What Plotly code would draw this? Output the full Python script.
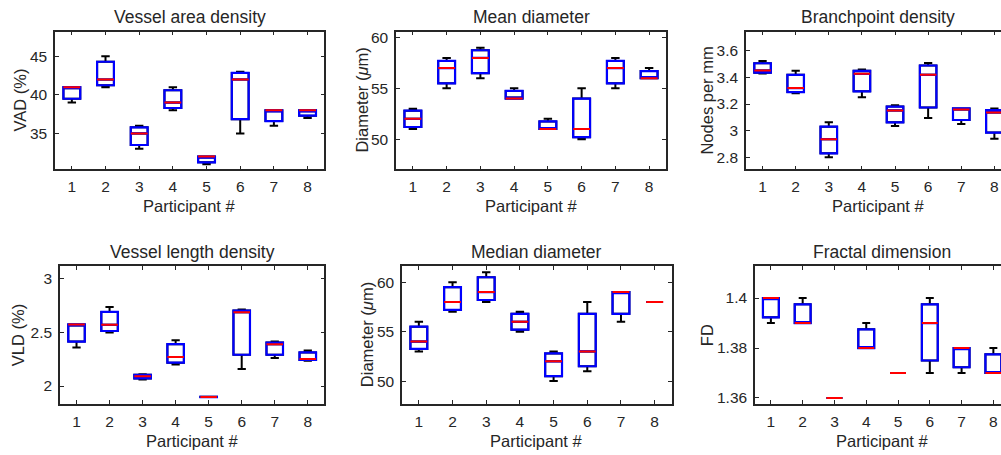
import plotly.graph_objects as go

participants = [1, 2, 3, 4, 5, 6, 7, 8]

# ---- data: box statistics per participant (min, q1, median, q3, max) ----
vad_min = [39, 41, 33, 38, 31, 35, 36, 37]
vad_q1 = [39.5, 41.25, 33.5, 38.3, 31.25, 36.85, 36.6, 37.3]
vad_med = [41, 42, 35, 39, 32, 42, 38, 38]
vad_q3 = [41, 44.3, 35.8, 40.6, 32, 42.85, 38, 38]
vad_max = [41, 45, 36, 41, 32, 43, 38, 38]

md_min = [51, 55, 56, 54, 51, 50, 55, 56]
md_q1 = [51.2, 55.5, 56.5, 54, 51, 50.2, 55.5, 56]
md_med = [52, 57, 58, 54, 51, 51, 57, 56]
md_q3 = [52.8, 57.7, 58.75, 54.75, 51.75, 54, 57.7, 56.7]
md_max = [53, 58, 59, 55, 52, 55, 58, 57]

bp_min = [3.43, 3.28, 2.80, 3.25, 3.035, 3.095, 3.05, 2.94]
bp_q1 = [3.435, 3.29, 2.83, 3.295, 3.063, 3.174, 3.08, 2.986]
bp_med = [3.451, 3.32, 2.936, 3.427, 3.152, 3.419, 3.159, 3.137]
bp_q3 = [3.506, 3.419, 3.03, 3.449, 3.181, 3.489, 3.167, 3.154]
bp_max = [3.523, 3.449, 3.063, 3.459, 3.191, 3.508, 3.167, 3.167]

vld_min = [2.36, 2.50, 2.062, 2.20, 1.897, 2.16, 2.262, 2.237]
vld_q1 = [2.415, 2.514, 2.071, 2.218, 1.897, 2.292, 2.292, 2.243]
vld_med = [2.575, 2.572, 2.092, 2.271, 1.898, 2.69, 2.391, 2.252]
vld_q3 = [2.575, 2.692, 2.105, 2.391, 1.899, 2.705, 2.406, 2.314]
vld_max = [2.575, 2.738, 2.111, 2.428, 1.899, 2.714, 2.415, 2.332]

mdd_min = [53, 57, 58, 55, 50, 51, 56, 58]
mdd_q1 = [53.25, 57.2, 58.2, 55.2, 50.5, 51.5, 56.8, 58]
mdd_med = [54, 58, 59, 56, 52, 53, 59, 58]
mdd_q3 = [55.5, 59.5, 60.5, 56.8, 52.8, 56.8, 59, 58]
mdd_max = [56, 60, 61, 57, 53, 58, 59, 58]

fd_min = [1.39, 1.39, 1.36, 1.38, 1.37, 1.37, 1.37, 1.37]
fd_q1 = [1.3923, 1.39, 1.36, 1.38, 1.37, 1.375, 1.3723, 1.37]
fd_med = [1.40, 1.39, 1.36, 1.38, 1.37, 1.39, 1.38, 1.37]
fd_q3 = [1.40, 1.3975, 1.36, 1.3875, 1.37, 1.3975, 1.38, 1.3775]
fd_max = [1.40, 1.40, 1.36, 1.39, 1.37, 1.40, 1.38, 1.38]

titles = ["Vessel area density", "Mean diameter", "Branchpoint density",
          "Vessel length density", "Median diameter", "Fractal dimension"]
ylabels = ["VAD (%)", "Diameter (<i>μ</i>m)", "Nodes per mm",
           "VLD (%)", "Diameter (<i>μ</i>m)", "FD"]
xlabel = "Participant #"
yticks = [[35, 40, 45], [50, 55, 60], [2.8, 3, 3.2, 3.4, 3.6],
          [2, 2.5, 3], [50, 55, 60], [1.36, 1.38, 1.4]]
yticktext = [["35", "40", "45"], ["50", "55", "60"], ["2.8", "3", "3.2", "3.4", "3.6"],
             ["2", "2.5", "3"], ["50", "55", "60"], ["1.36", "1.38", "1.4"]]
yranges = [[30.33, 48.2], [47.02, 60.58], [2.709, 3.743],
           [1.83, 3.12], [47.66, 61.63], [1.3575, 1.4128]]

panels = [
    (vad_min, vad_q1, vad_med, vad_q3, vad_max),
    (md_min, md_q1, md_med, md_q3, md_max),
    (bp_min, bp_q1, bp_med, bp_q3, bp_max),
    (vld_min, vld_q1, vld_med, vld_q3, vld_max),
    (mdd_min, mdd_q1, mdd_med, mdd_q3, mdd_max),
    (fd_min, fd_q1, fd_med, fd_q3, fd_max),
]

# ---- layout geometry (pixels) ----
W, H = 1001, 455
frames = [  # left, right, top, bottom
    (55, 324.4, 29, 168.3),
    (396, 666, 29, 168.3),
    (746, 1001, 29, 168.3),
    (60, 324.3, 266, 405.7),
    (402, 671.5, 266, 405.7),
    (755, 1001, 266, 405.7),
]
xranges = [[0.5, 8.5], [0.5, 8.5], [0.5, 8.2], [0.5, 8.5], [0.5, 8.5], [0.5, 8.24]]
ylabel_x = [20, 362, 707, 18, 367, 707]

TXT = "#262626"
FONT = "Liberation Sans, Arial, sans-serif"

fig = go.Figure()
annotations = []
for i, (mn, q1, med, q3, mx) in enumerate(panels):
    xa = "x" if i == 0 else f"x{i+1}"
    ya = "y" if i == 0 else f"y{i+1}"
    common = dict(x=participants, xaxis=xa, yaxis=ya, width=0.5,
                  boxpoints=False, fillcolor="rgba(0,0,0,0)", hoverinfo="skip",
                  showlegend=False)
    # whiskers (black)
    fig.add_trace(go.Box(q1=q1, median=med, q3=q3, lowerfence=mn, upperfence=mx,
                         line=dict(color="black", width=2), whiskerwidth=0.5, **common))
    # box (blue)
    fig.add_trace(go.Box(q1=q1, median=med, q3=q3, lowerfence=q1, upperfence=q3,
                         line=dict(color="#0000ff", width=2.2), whiskerwidth=0.0, **common))
    # median (red)
    fig.add_trace(go.Box(q1=med, median=med, q3=med, lowerfence=med, upperfence=med,
                         line=dict(color="#ff0000", width=2), whiskerwidth=0.0, **common))

    l, r, t, b = frames[i]
    axis_common = dict(showline=True, linecolor=TXT, linewidth=1.5,
                       ticks="inside", ticklen=4, tickwidth=1, tickcolor=TXT,
                       showgrid=False, zeroline=False,
                       tickfont=dict(family=FONT, size=15.5, color=TXT))
    fig.layout[("xaxis" if i == 0 else f"xaxis{i+1}")] = dict(
        domain=[l / W, r / W], anchor=ya, range=xranges[i],
        tickvals=participants, ticktext=[str(p) for p in participants],
        mirror="ticks", ticklabelstandoff=2, **axis_common)
    fig.layout[("yaxis" if i == 0 else f"yaxis{i+1}")] = dict(
        domain=[1 - b / H, 1 - t / H], anchor=xa, range=yranges[i],
        tickvals=yticks[i], ticktext=yticktext[i],
        mirror=("ticks" if i % 3 != 2 else False), ticklabelstandoff=3, **axis_common)

    cx = (l + (l + (r - l) * (8.5 - 0.5) / (xranges[i][1] - 0.5))) / 2
    annotations.append(dict(text=titles[i], xref="paper", yref="paper",
                            x=cx / W, y=1 - (t - 14.5) / H, xanchor="center", yanchor="middle",
                            showarrow=False, font=dict(family=FONT, size=17.5, color=TXT)))
    annotations.append(dict(text=xlabel, xref="paper", yref="paper",
                            x=cx / W, y=1 - (b + 37) / H, xanchor="center", yanchor="middle",
                            showarrow=False, font=dict(family=FONT, size=16.5, color=TXT)))
    annotations.append(dict(text=ylabels[i], xref="paper", yref="paper", textangle=-90,
                            x=ylabel_x[i] / W, y=1 - ((t + b) / 2) / H,
                            xanchor="center", yanchor="middle",
                            showarrow=False, font=dict(family=FONT, size=16.5, color=TXT)))

fig.update_layout(width=W, height=H, margin=dict(l=0, r=0, t=0, b=0),
                  paper_bgcolor="white", plot_bgcolor="white",
                  boxmode="overlay", annotations=annotations)
fig.write_html("out.html")
